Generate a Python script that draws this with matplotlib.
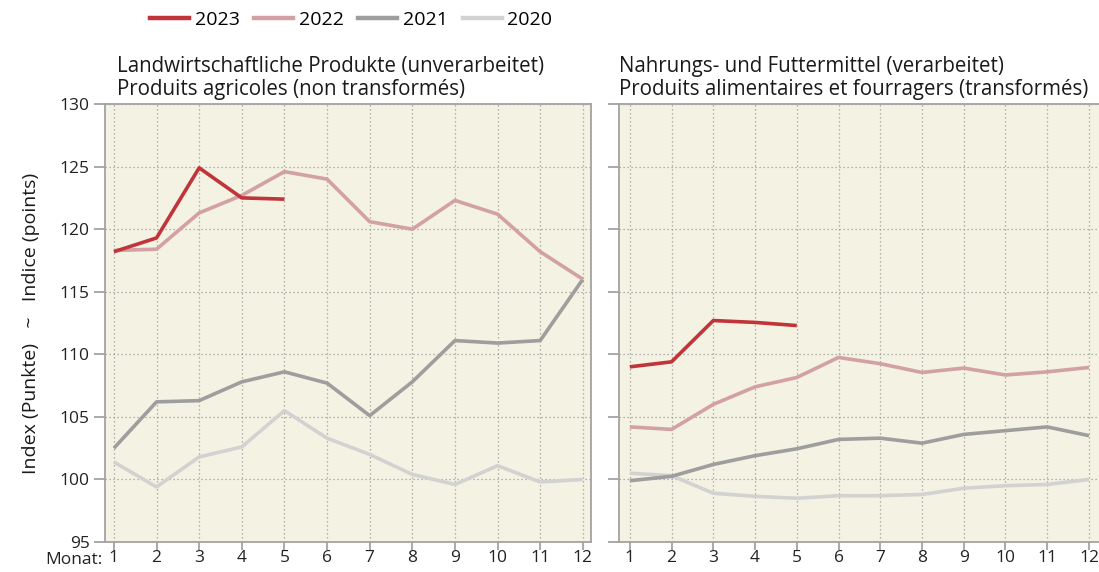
import matplotlib.pyplot as plt
from matplotlib.lines import Line2D

plt.rcParams['font.family'] = ['Open Sans', 'DejaVu Sans']

months = list(range(1, 13))
years = ["2023", "2022", "2021", "2020"]
colors = ["#c0353a", "#d3a1a3", "#9e9e9e", "#d2d2d2"]

# Landwirtschaftliche Produkte (unverarbeitet)
agri_2023 = [118.2, 119.3, 124.9, 122.5, 122.4]
agri_2022 = [118.3, 118.4, 121.3, 122.7, 124.6, 124.0, 120.6, 120.0, 122.3, 121.2, 118.2, 116.0]
agri_2021 = [102.5, 106.2, 106.3, 107.8, 108.6, 107.7, 105.1, 107.8, 111.1, 110.9, 111.1, 116.0]
agri_2020 = [101.4, 99.4, 101.8, 102.6, 105.5, 103.3, 102.0, 100.4, 99.6, 101.1, 99.8, 100.0]

# Nahrungs- und Futtermittel (verarbeitet)
food_2023 = [109.0, 109.4, 112.7, 112.55, 112.3]
food_2022 = [104.2, 104.0, 106.0, 107.4, 108.15, 109.75, 109.25, 108.55, 108.9, 108.35, 108.6, 108.95]
food_2021 = [99.9, 100.25, 101.2, 101.9, 102.45, 103.2, 103.3, 102.9, 103.6, 103.9, 104.2, 103.5]
food_2020 = [100.5, 100.3, 98.9, 98.65, 98.5, 98.7, 98.7, 98.8, 99.3, 99.5, 99.6, 100.0]

titles = ["Landwirtschaftliche Produkte (unverarbeitet)\nProduits agricoles (non transformés)",
          "Nahrungs- und Futtermittel (verarbeitet)\nProduits alimentaires et fourragers (transformés)"]

fig = plt.figure(figsize=(10.99, 5.72), dpi=100)
ax1 = fig.add_axes([0.0955, 0.0524, 0.4422, 0.7657])
ax2 = fig.add_axes([0.5632, 0.0524, 0.4368, 0.7657])

panels = [(ax1, [agri_2023, agri_2022, agri_2021, agri_2020], (0.79, 12.19), 0.025),
          (ax2, [food_2023, food_2022, food_2021, food_2020], (0.74, 12.24), 0.0)]

spine_col = "#a3a3a3"
for i, (ax, series, xlim, tx) in enumerate(panels):
    ax.set_facecolor("#f4f2e3")
    # oldest first so 2023 ends up on top
    for vals, c in reversed(list(zip(series, colors))):
        ax.plot(months[:len(vals)], vals, color=c, lw=2.6, solid_capstyle='butt', zorder=3)
    ax.set_xlim(*xlim)
    ax.set_ylim(95, 130)
    ax.set_xticks(months)
    ax.set_yticks(range(95, 131, 5))
    ax.grid(True, color="#9a9a9a", ls=(0, (1, 2.2)), lw=0.9, zorder=1)
    ax.set_axisbelow(True)
    for s in ax.spines.values():
        s.set_color(spine_col)
        s.set_linewidth(1.3)
    ax.spines['right'].set_visible(i == 0)
    ax.tick_params(axis='both', color=spine_col, width=1.3, labelsize=12.5,
                   labelcolor="#222222")
    ax.tick_params(axis='y', length=8, pad=3)
    ax.tick_params(axis='x', length=6, pad=0)
    if i == 1:
        ax.tick_params(axis='y', labelleft=False)
    ax.text(tx, 1.01, titles[i], transform=ax.transAxes, ha='left', va='bottom',
            fontsize=14.8, color="#1a1a1a", linespacing=1.12)

ax1.set_ylabel("Index (Punkte)   ~   Indice (points)", fontsize=14, color="#1a1a1a", labelpad=14)
ax1.text(-0.006, -0.041, "Monat:", transform=ax1.transAxes, ha='right', va='center',
         fontsize=12.5, color="#222222")

handles = [Line2D([], [], color=c, lw=3.2) for c in colors]
fig.legend(handles, years, loc='center left', bbox_to_anchor=(0.1365, 0.965), ncol=4,
           frameon=False, fontsize=14, handlelength=2.0, handletextpad=0.3,
           columnspacing=0.75, borderaxespad=0, borderpad=0)

fig.savefig("out.png", dpi=100)
